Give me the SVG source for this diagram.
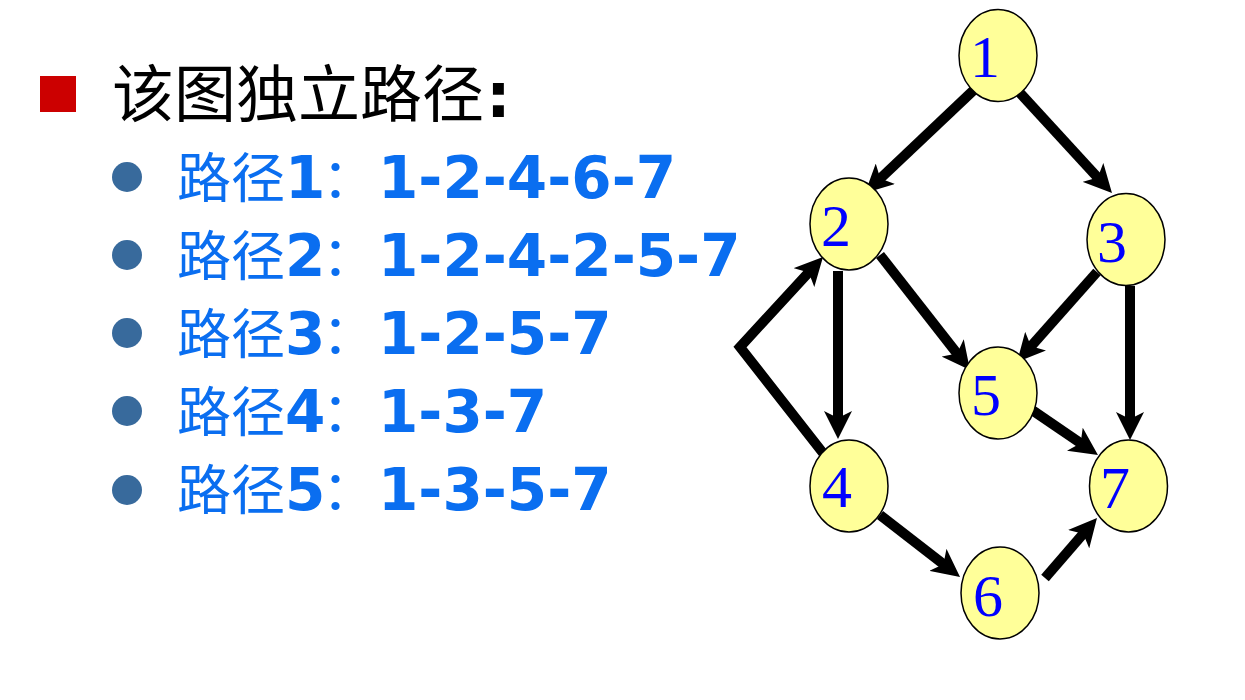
<svg xmlns="http://www.w3.org/2000/svg" width="1245" height="700" viewBox="0 0 1245 700">
<style>
.title{font-family:"Noto Sans CJK SC","Noto Sans",sans-serif;font-size:62px;fill:#000}
.item{font-family:"DejaVu Sans","Noto Sans CJK SC",sans-serif;font-size:58px;fill:#0A6EF0;font-weight:bold}
.cjk{font-family:"Noto Sans CJK SC",sans-serif;font-weight:normal;font-size:54px}
.node ellipse{fill:#FFFF99;stroke:#000;stroke-width:1.5}
.node text{font-family:"Liberation Serif","Times New Roman",serif;font-size:60px;fill:#0000FF;text-anchor:middle}
.edge{fill:none;stroke:#000;stroke-width:10;stroke-linejoin:miter;marker-end:url(#arr)}
.bullet{fill:#386A9C}
</style>
<defs>
<marker id="arr" viewBox="0 0 28 28" markerUnits="userSpaceOnUse" markerWidth="28" markerHeight="28" refX="10" refY="14" orient="auto">
<path d="M28,14 L0,0 L7,14 L0,28 Z" fill="#000"/>
</marker>
</defs>
<rect width="1245" height="700" fill="#fff"/>
<g id="text">
<rect x="40" y="76" width="36" height="36" fill="#CC0000"/>
<text class="title" x="112" y="117">该图独立路径<tspan x="486" font-family="DejaVu Sans" font-weight="bold">:</tspan></text>
<circle class="bullet" cx="127" cy="177" r="15"/>
<circle class="bullet" cx="127" cy="255" r="15"/>
<circle class="bullet" cx="127" cy="333" r="15"/>
<circle class="bullet" cx="127" cy="411" r="15"/>
<circle class="bullet" cx="127" cy="490" r="15"/>
<text class="item" y="198"><tspan class="cjk" x="177">路径</tspan><tspan x="285">1</tspan><tspan class="cjk" x="322">：</tspan><tspan x="378">1-2-4-6-7</tspan></text>
<text class="item" y="276"><tspan class="cjk" x="177">路径</tspan><tspan x="285">2</tspan><tspan class="cjk" x="322">：</tspan><tspan x="378">1-2-4-2-5-7</tspan></text>
<text class="item" y="354"><tspan class="cjk" x="177">路径</tspan><tspan x="285">3</tspan><tspan class="cjk" x="322">：</tspan><tspan x="378">1-2-5-7</tspan></text>
<text class="item" y="432"><tspan class="cjk" x="177">路径</tspan><tspan x="285">4</tspan><tspan class="cjk" x="322">：</tspan><tspan x="378">1-3-7</tspan></text>
<text class="item" y="510"><tspan class="cjk" x="177">路径</tspan><tspan x="285">5</tspan><tspan class="cjk" x="322">：</tspan><tspan x="378">1-3-5-7</tspan></text>
</g>
<g id="connectors">
<path class="edge" d="M977,87 L878.1,180.6"/>
<path class="edge" d="M1020,93 L1099.8,179.8"/>
<path class="edge" d="M838,271 L838,421"/>
<path class="edge" d="M823,453 L740,347 L810.8,270.2"/>
<path class="edge" d="M880,255 L958.9,355.8"/>
<path class="edge" d="M1097,272 L1029,348.6"/>
<path class="edge" d="M1130,286 L1130,422"/>
<path class="edge" d="M1032,410 L1083.1,444.9"/>
<path class="edge" d="M880,515 L945.8,566"/>
<path class="edge" d="M1045,578 L1085.2,531.6"/>
</g>
<g id="n1" class="node"><ellipse cx="998" cy="55.5" rx="39" ry="46"/><text x="985" y="77">1</text></g>
<g id="n2" class="node"><ellipse cx="849" cy="224" rx="39" ry="46"/><text x="836" y="246">2</text></g>
<g id="n3" class="node"><ellipse cx="1126" cy="239.5" rx="39" ry="46"/><text x="1112" y="262">3</text></g>
<g id="n4" class="node"><ellipse cx="849" cy="486" rx="39" ry="46"/><text x="837" y="507">4</text></g>
<g id="n5" class="node"><ellipse cx="998" cy="393" rx="39" ry="46"/><text x="986" y="415">5</text></g>
<g id="n6" class="node"><ellipse cx="1000" cy="593" rx="39" ry="46"/><text x="988" y="616">6</text></g>
<g id="n7" class="node"><ellipse cx="1128.5" cy="486" rx="39" ry="46"/><text x="1115" y="508">7</text></g>
</svg>
